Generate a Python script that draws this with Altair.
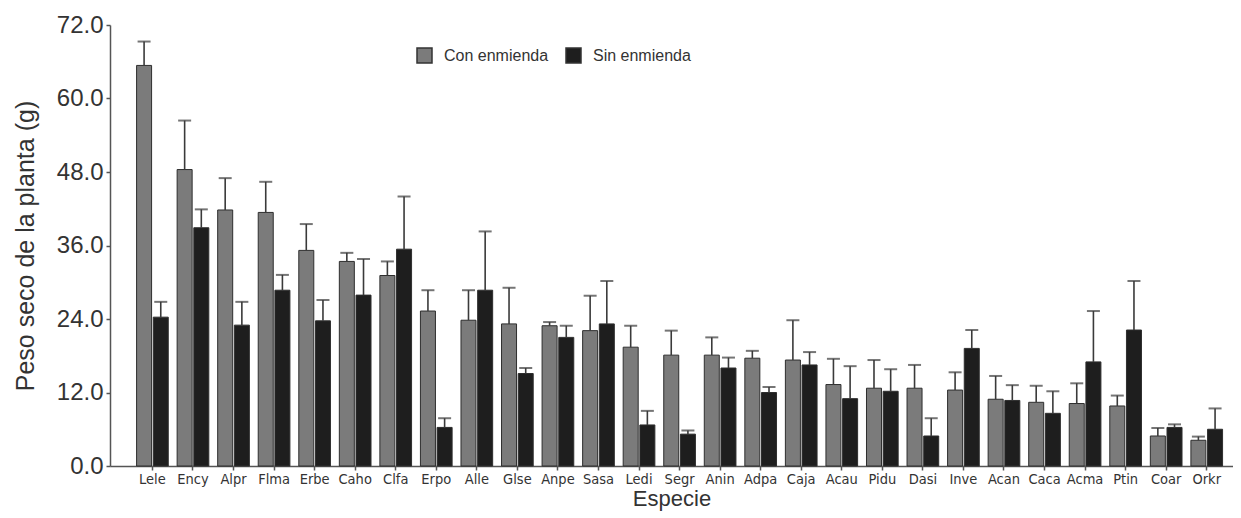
import altair as alt
import pandas as pd

species = ["Lele", "Ency", "Alpr", "Flma", "Erbe", "Caho", "Clfa", "Erpo", "Alle",
           "Glse", "Anpe", "Sasa", "Ledi", "Segr", "Anin", "Adpa", "Caja", "Acau",
           "Pidu", "Dasi", "Inve", "Acan", "Caca", "Acma", "Ptin", "Coar", "Orkr"]
treatments = ["Con enmienda", "Sin enmienda"]

con_mean = [65.4, 48.4, 41.8, 41.4, 35.2, 33.4, 31.1, 25.3, 23.8, 23.2, 22.9, 22.1, 19.4,
            18.1, 18.1, 17.6, 17.3, 13.3, 12.7, 12.7, 12.4, 10.9, 10.4, 10.2, 9.8, 4.9, 4.2]
con_upper = [69.3, 56.4, 47.0, 46.4, 39.5, 34.8, 33.4, 28.7, 28.7, 29.1, 23.5, 27.8, 22.9,
             22.1, 21.0, 18.8, 23.8, 17.5, 17.3, 16.5, 15.3, 14.7, 13.1, 13.5, 11.5, 6.2, 4.8]
sin_mean = [24.3, 38.9, 23.0, 28.7, 23.7, 27.9, 35.4, 6.3, 28.7, 15.1, 21.0, 23.2, 6.7,
            5.2, 16.0, 12.0, 16.5, 11.0, 12.2, 4.9, 19.2, 10.7, 8.6, 17.0, 22.2, 6.3, 6.0]
sin_upper = [26.8, 41.9, 26.8, 31.2, 27.1, 33.8, 44.0, 7.8, 38.3, 16.0, 22.9, 30.2, 9.0,
             5.8, 17.7, 12.9, 18.6, 16.3, 15.8, 7.8, 22.2, 13.2, 12.2, 25.3, 30.2, 6.8, 9.4]
y_ticks = [0, 12, 24, 36, 48, 60, 72]

rows = []
for i, s in enumerate(species):
    rows.append(dict(especie=s, trat=treatments[0], media=con_mean[i], sup=con_upper[i]))
    rows.append(dict(especie=s, trat=treatments[1], media=sin_mean[i], sup=sin_upper[i]))
df = pd.DataFrame(rows)

x = alt.X("especie:N", sort=species,
          scale=alt.Scale(paddingInner=0, paddingOuter=0.347, align=0.787),
          axis=alt.Axis(title="Especie", labelAngle=0,
                        labelFont="'DejaVu Sans Condensed', 'Liberation Sans', sans-serif",
                        labelFontSize=14.5, labelPadding=2, tickSize=4, titleFontSize=22,
                        titlePadding=3, titleFont="Liberation Sans", titleFontWeight="normal"))
xoff = alt.XOffset("trat:N", sort=treatments,
                   scale=alt.Scale(paddingInner=0.1, paddingOuter=0.266))
yaxis = alt.Axis(title="Peso seco de la planta (g)", values=y_ticks, format=".1f",
                 labelFontSize=24, labelFont="Liberation Sans", tickSize=4, labelPadding=3,
                 titleFontSize=25, titleFont="Liberation Sans", titleFontWeight="normal",
                 titlePadding=18, grid=False)
yscale = alt.Scale(domain=[0, 72], nice=False, zero=True)

bars = alt.Chart(df).mark_bar(stroke="#2e2e2e", strokeWidth=1).encode(
    x=x, xOffset=xoff,
    y=alt.Y("media:Q", scale=yscale, axis=yaxis),
    color=alt.Color("trat:N", sort=treatments,
                    scale=alt.Scale(domain=treatments, range=["#7b7b7b", "#1e1e1e"]),
                    legend=alt.Legend(title=None, orient="none", legendX=306, legendY=22,
                                      direction="horizontal", symbolType="square",
                                      symbolSize=225, symbolStrokeColor="#333",
                                      symbolStrokeWidth=1.5, labelFontSize=16,
                                      labelFont="Liberation Sans", labelColor="#333",
                                      labelOffset=11, columnPadding=14)),
)

stems = alt.Chart(df).mark_rule(color="#3a3a3a", strokeWidth=1.6).encode(
    x=x, xOffset=xoff,
    y=alt.Y("media:Q", scale=yscale, axis=yaxis),
    y2="sup:Q",
)

caps = alt.Chart(df).mark_tick(orient="horizontal", size=13, thickness=2, color="#3a3a3a").encode(
    x=x, xOffset=xoff,
    y=alt.Y("sup:Q", scale=yscale, axis=yaxis),
)

chart = alt.layer(bars, stems, caps).properties(
    width=1123, height=441,
    autosize=alt.AutoSizeParams(type="none"),
    padding={"left": 102, "top": 17, "right": 0, "bottom": 52},
    background="white",
).configure_view(stroke=None).configure_axis(
    domainColor="#555", domainWidth=1.5, tickColor="#555", tickWidth=1.5,
    labelColor="#333", titleColor="#333", grid=False
)

chart.save("out.html", embed_options={"renderer": "svg", "actions": False})
